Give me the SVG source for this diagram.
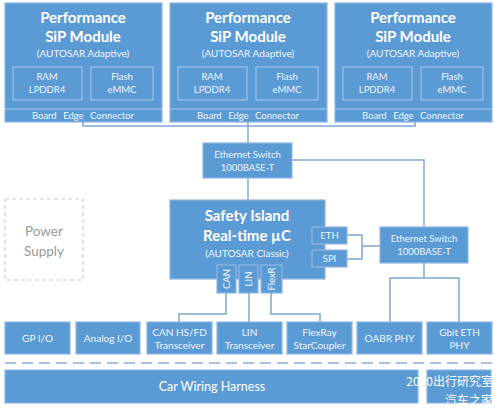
<svg xmlns="http://www.w3.org/2000/svg" width="499" height="413" viewBox="0 0 499 413">
<style>
.b{fill:#5b9bd5;stroke:#8fb6e2;stroke-width:1.2}
.in{fill:none;stroke:#a9c8ea;stroke-width:1}
.t{font-family:Lato,"Open Sans","Liberation Sans",sans-serif;fill:#ffffff;text-anchor:middle}
.tt{font-size:15px;font-weight:bold}
.s{font-size:9.5px;fill:#eef4fb}
.m{font-size:10px;fill:#eef4fb}
.c{fill:none;stroke:#7fa6cf;stroke-width:1.5}
.w{font-family:"Noto Sans CJK SC",sans-serif;font-size:12px;fill:#ffffff;text-anchor:end}
</style>
<rect width="499" height="413" fill="#ffffff"/>
<g id="sip1">
<rect class="b" x="5" y="3" width="157" height="119"/>
<line class="in" x1="5" y1="109" x2="162" y2="109"/>
<rect class="in" x="13" y="67" width="69" height="33"/>
<rect class="in" x="91" y="67" width="62" height="33"/>
<text class="t tt" x="83" y="23">Performance</text>
<text class="t tt" x="83" y="42">SiP Module</text>
<text class="t m" x="83" y="57">(AUTOSAR Adaptive)</text>
<text class="t s" x="47" y="80">RAM</text><text class="t s" x="47" y="93">LPDDR4</text>
<text class="t s" x="122" y="80">Flash</text><text class="t s" x="122" y="93">eMMC</text>
<text class="t s" x="83" y="119" word-spacing="4">Board Edge Connector</text>
</g>
<g id="sip2">
<rect class="b" x="170" y="3" width="157" height="119"/>
<line class="in" x1="170" y1="109" x2="327" y2="109"/>
<rect class="in" x="178" y="67" width="69" height="33"/>
<rect class="in" x="256" y="67" width="62" height="33"/>
<text class="t tt" x="248" y="23">Performance</text>
<text class="t tt" x="248" y="42">SiP Module</text>
<text class="t m" x="248" y="57">(AUTOSAR Adaptive)</text>
<text class="t s" x="212" y="80">RAM</text><text class="t s" x="212" y="93">LPDDR4</text>
<text class="t s" x="287" y="80">Flash</text><text class="t s" x="287" y="93">eMMC</text>
<text class="t s" x="248" y="119" word-spacing="4">Board Edge Connector</text>
</g>
<g id="sip3">
<rect class="b" x="335" y="3" width="157" height="119"/>
<line class="in" x1="335" y1="109" x2="492" y2="109"/>
<rect class="in" x="343" y="67" width="69" height="33"/>
<rect class="in" x="421" y="67" width="62" height="33"/>
<text class="t tt" x="413" y="23">Performance</text>
<text class="t tt" x="413" y="42">SiP Module</text>
<text class="t m" x="413" y="57">(AUTOSAR Adaptive)</text>
<text class="t s" x="377" y="80">RAM</text><text class="t s" x="377" y="93">LPDDR4</text>
<text class="t s" x="452" y="80">Flash</text><text class="t s" x="452" y="93">eMMC</text>
<text class="t s" x="413" y="119" word-spacing="4">Board Edge Connector</text>
</g>
<g id="connectors">
<path class="c" d="M83 122 V126 H415 V122"/>
<path class="c" d="M248 122 V143"/>
<path class="c" d="M292 160 H424 V227"/>
<path class="c" d="M248 178 V200"/>
<path class="c" d="M347 235 H362 V259 H347 M362 246 H380"/>
<path class="c" d="M424 263 V278 M390 322 V278 H459 V322"/>
<path class="c" d="M226 293 V314 H179 V322"/>
<path class="c" d="M249 293 V322"/>
<path class="c" d="M271 293 V314 H320 V322"/>
</g>
<g id="switch1">
<rect class="b" x="203" y="143" width="89" height="35"/>
<text class="t s" x="247.5" y="158">Ethernet Switch</text>
<text class="t s" x="247.5" y="171">1000BASE-T</text>
</g>
<g id="power">
<rect x="5" y="199" width="78" height="81" fill="#ffffff" stroke="#cfcfcf" stroke-width="1.2" stroke-dasharray="4 3"/>
<text class="t" x="44" y="236" font-size="13.5" style="fill:#9a9a9a">Power</text>
<text class="t" x="44" y="256" font-size="13.5" style="fill:#9a9a9a">Supply</text>
</g>
<g id="safety">
<rect class="b" x="170" y="200" width="155" height="79"/>
<text class="t tt" x="247" y="221">Safety Island</text>
<text class="t tt" x="247" y="241">Real-time µC</text>
<text class="t m" x="247" y="257">(AUTOSAR Classic)</text>
</g>
<g id="eth"><rect class="b" x="312" y="227" width="35" height="17"/><text class="t s" x="329.5" y="239">ETH</text></g>
<g id="spi"><rect class="b" x="312" y="250" width="35" height="17"/><text class="t s" x="329.5" y="262">SPI</text></g>
<g id="can"><rect class="b" x="217" y="265" width="19" height="28"/><text class="t s" transform="translate(229.5 279) rotate(-90)">CAN</text></g>
<g id="lin"><rect class="b" x="239" y="265" width="19" height="28"/><text class="t s" transform="translate(251.5 279) rotate(-90)">LIN</text></g>
<g id="flexr"><rect class="b" x="261" y="265" width="21" height="28"/><text class="t s" transform="translate(274.5 279) rotate(-90)">FlexR</text></g>
<g id="switch2">
<rect class="b" x="380" y="227" width="88" height="36"/>
<text class="t s" x="424" y="242">Ethernet Switch</text>
<text class="t s" x="424" y="255">1000BASE-T</text>
</g>
<g id="gpio"><rect class="b" x="5" y="322" width="65" height="32"/><text class="t m" x="37.5" y="342">GP I/O</text></g>
<g id="analog"><rect class="b" x="76" y="322" width="64" height="32"/><text class="t m" x="108" y="342">Analog I/O</text></g>
<g id="cantr"><rect class="b" x="147" y="322" width="65" height="32"/><text class="t m" x="179.5" y="336">CAN HS/FD</text><text class="t m" x="179.5" y="349">Transceiver</text></g>
<g id="lintr"><rect class="b" x="217" y="322" width="65" height="32"/><text class="t m" x="249.5" y="336">LIN</text><text class="t m" x="249.5" y="349">Transceiver</text></g>
<g id="flexray"><rect class="b" x="287" y="322" width="65" height="32"/><text class="t m" x="319.5" y="336">FlexRay</text><text class="t m" x="319.5" y="349">StarCoupler</text></g>
<g id="oabr"><rect class="b" x="357" y="322" width="65" height="32"/><text class="t m" x="389.5" y="342">OABR PHY</text></g>
<g id="gbit"><rect class="b" x="427" y="322" width="65" height="32"/><text class="t m" x="459.5" y="336">Gbit ETH</text><text class="t m" x="459.5" y="349">PHY</text></g>
<line x1="5" y1="363" x2="492" y2="363" stroke="#a9c3df" stroke-width="2" stroke-dasharray="11 6"/>
<g id="harness"><rect class="b" x="5" y="370" width="413" height="33"/><text class="t" x="212" y="391" font-size="12.5">Car Wiring Harness</text></g>
<g id="debug"><rect class="b" x="427" y="370" width="64" height="33"/></g>
<g id="watermark">
<text class="w" x="493" y="386">2020出行研究室</text>
<text class="w" x="493" y="405">汽车之家</text>
</g>
</svg>
